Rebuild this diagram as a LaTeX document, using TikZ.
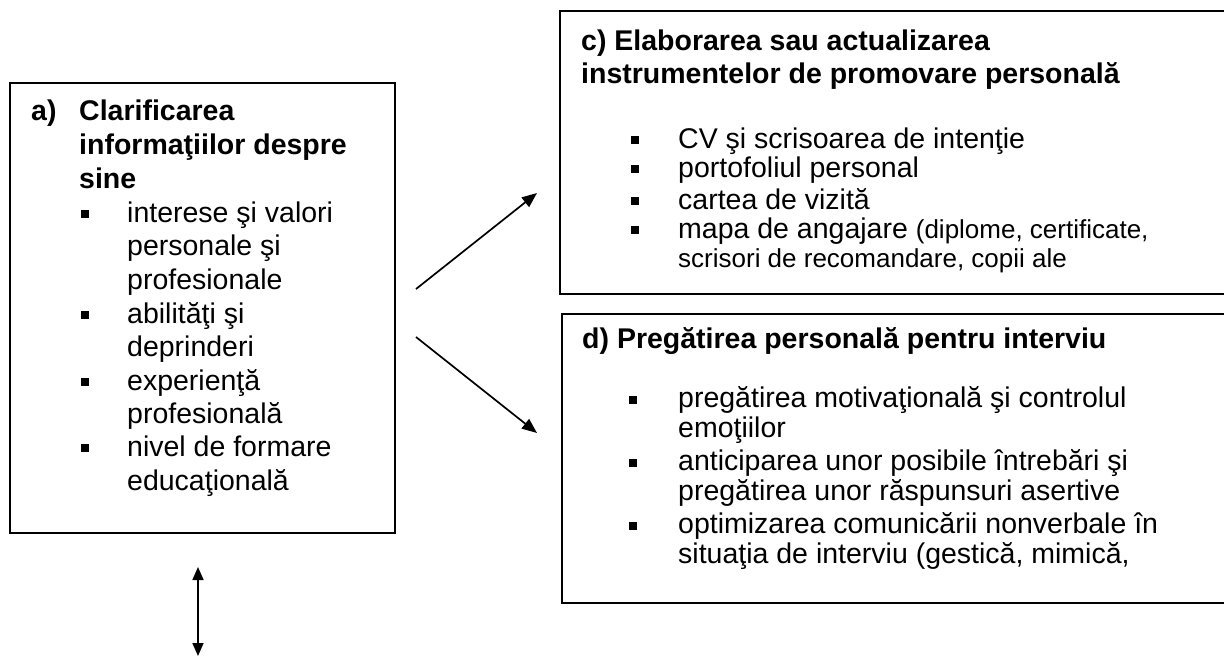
\documentclass[tikz,border=0pt]{standalone}
\usepackage{fontspec}
\setmainfont{Liberation Sans}
\usetikzlibrary{arrows.meta}
\begin{document}
\begin{tikzpicture}[x=1pt,y=-1pt,
  box/.style={draw=black, line width=1.7pt, inner sep=0pt, anchor=north west},
  txt/.style={anchor=base west, inner sep=0pt, font=\fontsize{28.5}{33}\selectfont},
  ttl/.style={anchor=base west, inner sep=0pt, font=\fontsize{28.5}{33}\selectfont\bfseries},
  sml/.style={anchor=base west, inner sep=0pt, font=\fontsize{26}{30}\selectfont},
  bul/.style={fill=black, draw=none, minimum size=8pt, inner sep=0pt},
  conn/.style={line width=1.7pt, -{Triangle[length=15pt,width=12pt]}},
  dconn/.style={line width=1.7pt, {Triangle[length=13pt,width=11pt]}-{Triangle[length=13pt,width=11pt]}},
]
\useasboundingbox (0,0) rectangle (1224,657);

% boxes
\node[box, minimum width=385pt, minimum height=450pt] (boxa) at (9,82) {};
\node[box, minimum width=670pt, minimum height=283pt] (boxc) at (559,10) {};
\node[box, minimum width=668pt, minimum height=289pt] (boxd) at (561,313) {};

% box a
\node[ttl] (a0) at (31,120) {a)};
\node[ttl] (a1) at (79,120) {Clarificarea};
\node[ttl] (a2) at (79,154) {informaţiilor despre};
\node[ttl] (a3) at (79,188) {sine};
\node[bul] (ab1) at (85,214) {};
\node[txt] (a4) at (127,222) {interese şi valori};
\node[txt] (a5) at (127,255) {personale şi};
\node[txt] (a6) at (127,289) {profesionale};
\node[bul] (ab2) at (85,315) {};
\node[txt] (a7) at (127,323) {abilităţi şi};
\node[txt] (a8) at (127,356) {deprinderi};
\node[bul] (ab3) at (85,382) {};
\node[txt] (a9) at (127,390) {experienţă};
\node[txt] (a10) at (127,423) {profesională};
\node[bul] (ab4) at (85,448) {};
\node[txt] (a11) at (127,456) {nivel de formare};
\node[txt] (a12) at (127,490) {educaţională};

% box c
\node[ttl] (c1) at (581,50) {c) Elaborarea sau actualizarea};
\node[ttl] (c2) at (581,83) {instrumentelor de promovare personală};
\node[bul] (cb1) at (635,140) {};
\node[txt] (c3) at (678,148) {CV şi scrisoarea de intenţie};
\node[bul] (cb2) at (635,169) {};
\node[txt] (c4) at (678,177) {portofoliul personal};
\node[bul] (cb3) at (635,201) {};
\node[txt] (c5) at (678,209) {cartea de vizită};
\node[bul] (cb4) at (635,230) {};
\node[txt] (c6) at (678,238) {mapa de angajare {\fontsize{26}{30}\selectfont (diplome, certificate,}};
\node[sml] (c7) at (678,267) {scrisori de recomandare, copii ale};

% box d
\node[ttl] (d1) at (582,348) {d) Pregătirea personală pentru interviu};
\node[bul] (db1) at (633,400) {};
\node[txt] (d2) at (678,407) {pregătirea motivaţională şi controlul};
\node[txt] (d3) at (678,437) {emoţiilor};
\node[bul] (db2) at (633,463) {};
\node[txt] (d4) at (678,470) {anticiparea unor posibile întrebări şi};
\node[txt] (d5) at (678,500) {pregătirea unor răspunsuri asertive};
\node[bul] (db3) at (633,526) {};
\node[txt] (d6) at (678,533) {optimizarea comunicării nonverbale în};
\node[txt] (d7) at (678,563) {situaţia de interviu (gestică, mimică,};

% connectors
\coordinate (u1) at (416,289);
\coordinate (u2) at (537,193);
\coordinate (l1) at (416,337);
\coordinate (l2) at (537,433);
\coordinate (v1) at (198,567);
\coordinate (v2) at (198,656);
\draw[conn] (u1) -- (u2);
\draw[conn] (l1) -- (l2);
\draw[dconn] (v1) -- (v2);
\end{tikzpicture}
\end{document}
